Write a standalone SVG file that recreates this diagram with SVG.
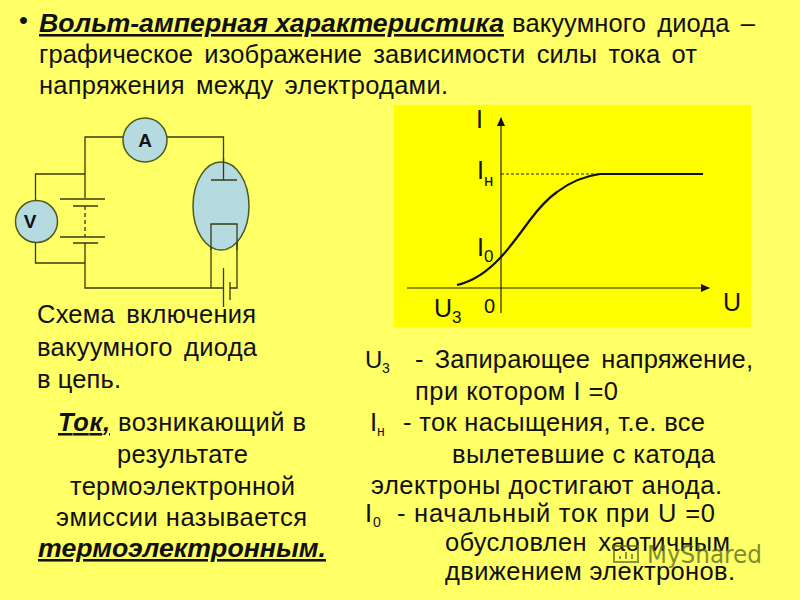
<svg xmlns="http://www.w3.org/2000/svg" width="800" height="600" viewBox="0 0 800 600">
<style>
text{font-family:"Liberation Sans",Arial,sans-serif;fill:#111}
.t{font-size:25.500px}
.g{word-spacing:4px}
.m{text-anchor:middle}
.b{font-weight:bold;font-style:italic;text-decoration:underline}
.w{fill:none;stroke:#3a3a10;stroke-width:1.3}
.n{fill:#b5dbe0;stroke:#4a5a20;stroke-width:1.5}
.l{font-size:25px}
.s{font-size:17px}
.u{font-size:14px}
</style>
<defs><marker id="ah" markerWidth="9" markerHeight="8" refX="8" refY="4" orient="auto" markerUnits="userSpaceOnUse"><path d="M0 0L9 4L0 8Z" fill="#111"/></marker></defs>
<rect width="800" height="600" fill="#ffff66"/>
<g id="heading">
<text x="19" y="29" class="t">•</text>
<text x="39" y="32" class="t b" textLength="465" lengthAdjust="spacingAndGlyphs">Вольт-амперная характеристика</text>
<text x="512" y="32" class="t g" textLength="243">вакуумного диода –</text>
<text x="39" y="63" class="t g" textLength="658">графическое изображение зависимости силы тока от</text>
<text x="39" y="94" class="t g" textLength="409">напряжения между электродами.</text>
</g>
<g id="connectors">
<path class="w" d="M123 137H85V198M167 137H223.500V180M35.500 200V174H85M35.500 243V263H85M85 243V288H223.500M230 288H237V224H211V288"/>
<path class="w" d="M60 199H105M73 206H98M60 237H105M73 243H98M211 180H237M223.500 268V307M230 282V300"/>
<path class="w" stroke-dasharray="4 3" d="M85 206V237"/>
</g>
<g id="node-tube"><ellipse class="n" cx="221" cy="206" rx="28" ry="44"/>
<path class="w" d="M223.500 158V180M211 180H237M211 250V224H237V250"/></g>
<g id="node-a"><circle class="n" cx="145" cy="140" r="22"/><text x="145" y="147" class="m" font-size="19" font-weight="bold">A</text></g>
<g id="node-v"><circle class="n" cx="36.500" cy="221.500" r="21"/><text x="30" y="228" class="m" font-size="19" font-weight="bold">V</text></g>
<g id="graph">
<rect x="394" y="105" width="357" height="222" fill="#ffff00"/>
<path d="M501 313V118" fill="none" stroke="#222" stroke-width="1.2" marker-end="url(#ah)"/>
<path d="M407 288H709" fill="none" stroke="#222" stroke-width="1.2" marker-end="url(#ah)"/>
<path d="M501 174H600" fill="none" stroke="#222" stroke-width="1" stroke-dasharray="3 2"/>
<path d="M457 285C475 281 489 270 501 257C512 245 521 232 530 220C539 208 547 199 557 192C570 182 585 176 600 174H703" fill="none" stroke="#111" stroke-width="2.200"/>
<text x="476" y="128" class="l">I</text>
<text x="477" y="179" class="l">I</text><text x="484" y="186" class="s">н</text>
<text x="477" y="256" class="l">I</text><text x="484" y="262" class="s">0</text>
<text x="434" y="317" class="l">U</text><text x="452" y="323" class="s">3</text>
<text x="484" y="313" font-size="20">0</text>
<text x="723" y="311" class="l">U</text>
</g>
<g id="left-text">
<text x="37" y="323" class="t g" textLength="219">Схема включения</text>
<text x="37" y="356" class="t g" textLength="220">вакуумного диода</text>
<text x="37" y="388" class="t" textLength="84">в цепь.</text>
<text x="58" y="431" class="t" textLength="52"><tspan class="b">Ток,</tspan></text>
<text x="118" y="431" class="t" textLength="188">возникающий в</text>
<text x="117" y="463" class="t" textLength="131">результате</text>
<text x="70" y="495" class="t" textLength="225">термоэлектронной</text>
<text x="56" y="526" class="t" textLength="251">эмиссии называется</text>
<text x="38" y="557" class="t b" textLength="288" lengthAdjust="spacingAndGlyphs">термоэлектронным.</text>
</g>
<g id="right-text">
<text x="365" y="368" font-size="24">U</text><text x="382" y="373" class="u">3</text>
<text x="415" y="368" class="t g" textLength="338">- Запирающее напряжение,</text>
<text x="415" y="400" class="t" textLength="203">при котором I =0</text>
<text x="370" y="431" class="t">I</text><text x="377" y="436" class="u">н</text>
<text x="403" y="431" class="t" textLength="302">- ток насыщения, т.е. все</text>
<text x="452" y="463" class="t" textLength="263">вылетевшие с катода</text>
<text x="371" y="494" class="t" textLength="351">электроны достигают анода.</text>
<text x="365" y="522" class="t">I</text><text x="373" y="527" class="u">0</text>
<text x="397" y="522" class="t" textLength="318">- начальный ток при  U =0</text>
<text x="445" y="551" class="t g" textLength="285">обусловлен  хаотичным</text>
<text x="445" y="580" class="t" textLength="290">движением электронов.</text>
</g>
<g id="watermark">
<path d="M614 546h24v16h-24z M620 559v-3M626 559v-7M632 559v-5" fill="none" stroke="#5a6a20" stroke-width="2" opacity="0.7"/>
<text x="647" y="563" font-size="24" style="fill:#55651c;font-family:'DejaVu Sans',sans-serif" textLength="115" lengthAdjust="spacingAndGlyphs" opacity="0.75">MyShared</text>
</g>
</svg>
